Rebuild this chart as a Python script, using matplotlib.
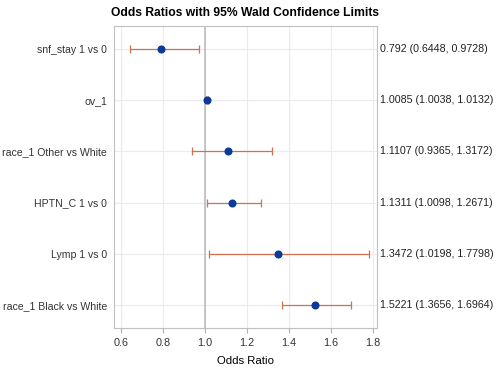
import matplotlib
matplotlib.use("Agg")
import matplotlib.pyplot as plt

labels = ["snf_stay 1 vs 0", "ov_1", "race_1 Other vs White", "HPTN_C 1 vs 0",
          "Lymp 1 vs 0", "race_1 Black vs White"]
estimates = [0.792, 1.0085, 1.1107, 1.1311, 1.3472, 1.5221]
lower = [0.6448, 1.0038, 0.9365, 1.0098, 1.0198, 1.3656]
upper = [0.9728, 1.0132, 1.3172, 1.2671, 1.7798, 1.6964]
est_text = ["0.792", "1.0085", "1.1107", "1.1311", "1.3472", "1.5221"]
lo_text = ["0.6448", "1.0038", "0.9365", "1.0098", "1.0198", "1.3656"]
hi_text = ["0.9728", "1.0132", "1.3172", "1.2671", "1.7798", "1.6964"]
xticks = [0.6, 0.8, 1.0, 1.2, 1.4, 1.6, 1.8]

plt.rcParams['font.family'] = ['Liberation Sans', 'DejaVu Sans']

fig = plt.figure(figsize=(5, 3.71), dpi=100)
ax = fig.add_axes([0.228, 0.116, 0.526, 0.814])

n = len(labels)
ys = list(range(n))
ax.set_ylim(n - 1 + 0.45, -0.45)
ax.set_xlim(0.567, 1.819)

for y in ys:
    ax.axhline(y, color="#ebebeb", lw=0.8, zorder=0)
for t in xticks:
    ax.axvline(t, color="#ebebeb", lw=0.8, zorder=0)
ax.axvline(1.0, color="#b8b8b8", lw=1.1, zorder=1)

err_lo = [e - l for e, l in zip(estimates, lower)]
err_hi = [u - e for e, u in zip(estimates, upper)]
ax.errorbar(estimates, ys, xerr=[err_lo, err_hi], fmt="none", ecolor="#d0714e",
            elinewidth=0.9, capsize=3.2, capthick=0.9, zorder=2)
ax.plot(estimates, ys, "o", color="#0a3a9a", ms=4.8, zorder=3)

ax.set_yticks(ys)
ax.set_yticklabels(labels, fontsize=7.6)
ax.set_xticks(xticks)
ax.set_xticklabels([f"{t:.1f}" for t in xticks], fontsize=7.8)
ax.tick_params(axis="both", color="#b0b0b0", length=3.5, colors="#333333")
ax.tick_params(axis="y", length=0, pad=5)
ax.set_xlabel("Odds Ratio", fontsize=8.2, labelpad=6)
for s in ax.spines.values():
    s.set_color("#c0c0c0")

for y, e, l, h in zip(ys, est_text, lo_text, hi_text):
    ax.text(1.013, y, f"{e} ({l}, {h})", transform=ax.get_yaxis_transform(),
            va="center", ha="left", fontsize=7.7, color="#222222")

fig.text(0.49, 0.965, "Odds Ratios with 95% Wald Confidence Limits", ha="center",
         va="center", fontsize=8.7, fontweight="bold")

fig.savefig("out.png", dpi=100)
